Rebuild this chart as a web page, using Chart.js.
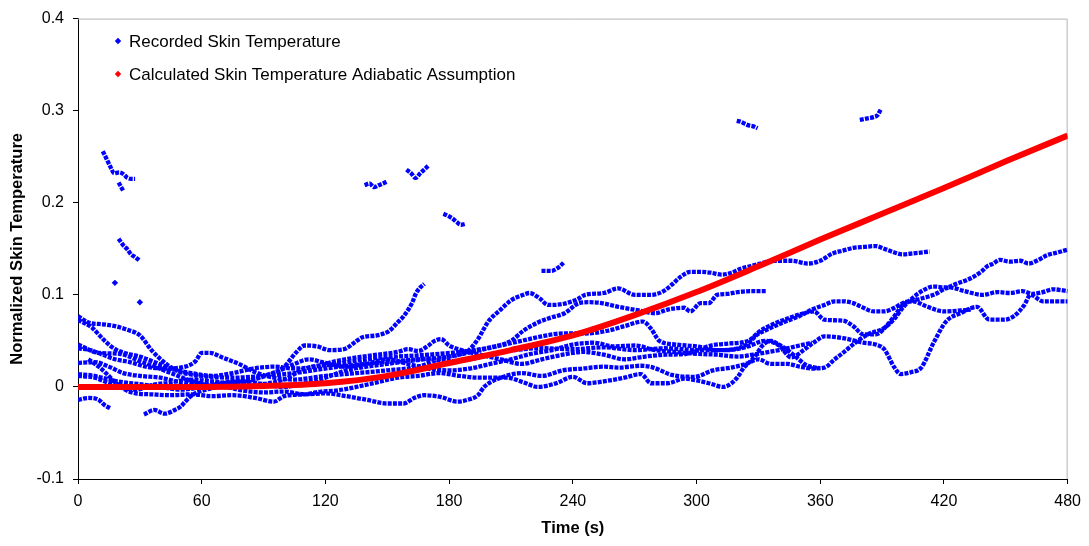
<!DOCTYPE html>
<html>
<head>
<meta charset="utf-8">
<script src="https://cdn.jsdelivr.net/npm/chart.js@4/dist/chart.umd.min.js"></script>
<style>
  html, body { margin: 0; padding: 0; background: #fff; }
  #wrap { width: 1089px; height: 546px; position: relative; }
</style>
</head>
<body>
<div id="wrap"><canvas id="skinChart"></canvas></div>
<script>
// axis ticks
const xTicks = [0, 60, 120, 180, 240, 300, 360, 420, 480];
const yTicks = [-0.1, 0, 0.1, 0.2, 0.3, 0.4];

const seriesLabels = ['Recorded Skin Temperature', 'Calculated Skin Temperature Adiabatic Assumption'];

// recorded traces, [time (s), normalized skin temperature]
const trace1 = [[0,0.077],[5,0.070],[12,0.068],[18,0.066],[24,0.062],[30,0.056],[36,0.039],[44,0.023],[50,0.016],[60,0.012],[75,0.010],[90,0.012],[105,0.015],[120,0.020],[135,0.024],[150,0.027],[165,0.030],[180,0.033],[189,0.039],[194,0.052],[199,0.071],[205,0.084],[210,0.094],[216,0.100],[219,0.102],[224,0.096],[228,0.089],[235,0.090],[242,0.095],[246,0.100],[255,0.102],[262,0.107],[270,0.100],[278,0.100],[284,0.104],[288,0.111],[292,0.119],[297,0.125],[302,0.125],[307,0.124],[312,0.122],[317,0.124],[321,0.128],[326,0.131],[331,0.134],[337,0.137],[346,0.137],[354,0.134],[360,0.137],[366,0.145],[371,0.148],[376,0.151],[381,0.152],[387,0.153],[391,0.150],[396,0.146],[400,0.144],[405,0.145],[413,0.147]];
const trace2 = [[0,0.046],[10,0.037],[20,0.036],[31,0.027],[44,0.016],[57,0.005],[70,0.000],[85,0.002],[100,0.008],[110,0.020],[125,0.025],[140,0.030],[155,0.033],[170,0.035],[185,0.038],[200,0.043],[210,0.050],[216,0.061],[223,0.070],[229,0.075],[236,0.080],[243,0.091],[248,0.092],[254,0.091],[262,0.087],[272,0.083],[280,0.080],[286,0.084],[294,0.086],[297,0.082],[302,0.091],[306,0.091],[310,0.100],[315,0.101],[320,0.103],[328,0.104],[334,0.104]];
const trace3 = [[0,0.026],[8,0.027],[15,0.022],[22,0.015],[30,0.012],[40,0.010],[50,0.005],[60,0.003],[75,0.006],[90,0.012],[100,0.022],[106,0.038],[110,0.045],[116,0.044],[122,0.040],[129,0.041],[134,0.048],[138,0.054],[145,0.056],[151,0.061],[155,0.070],[158,0.077],[162,0.091],[164,0.102],[166,0.108],[168,0.112]];
const trace4 = [[0,0.042],[6,0.040],[12,0.035],[18,0.030],[25,0.027],[33,0.022],[42,0.020],[52,0.022],[57,0.028],[60,0.037],[64,0.037],[70,0.032],[78,0.025],[86,0.016],[95,0.010],[105,0.008],[120,0.012],[135,0.015],[150,0.018],[165,0.022],[175,0.030],[185,0.035],[195,0.040],[205,0.045],[215,0.050],[225,0.055],[235,0.058],[245,0.058],[257,0.061],[265,0.066],[274,0.071],[278,0.063],[282,0.050],[290,0.046],[300,0.044],[310,0.040],[318,0.041],[325,0.047],[329,0.056],[335,0.063],[342,0.070],[350,0.077],[356,0.084],[362,0.089],[367,0.093],[371,0.093],[376,0.091],[380,0.087],[386,0.082],[391,0.082],[396,0.086],[400,0.091],[409,0.096],[415,0.100],[423,0.108],[430,0.104],[439,0.100],[446,0.103],[452,0.102],[458,0.104],[463,0.101],[468,0.103],[473,0.106],[480,0.104]];
const trace5 = [[0,0.014],[8,0.012],[15,0.008],[22,0.005],[30,0.003],[40,0.000],[50,-0.003],[60,0.000],[70,0.004],[80,0.006],[90,0.003],[100,0.000],[110,0.004],[120,0.010],[130,0.018],[140,0.022],[150,0.025],[160,0.028],[170,0.030],[180,0.028],[190,0.030],[200,0.035],[212,0.040],[225,0.042],[240,0.041],[255,0.043],[270,0.040],[285,0.042],[300,0.040],[315,0.040],[325,0.044],[333,0.050],[340,0.045],[346,0.032],[352,0.040],[358,0.050],[362,0.055],[371,0.053],[381,0.048],[387,0.046],[391,0.041],[396,0.021],[399,0.014],[404,0.016],[409,0.021],[415,0.048],[421,0.071],[428,0.080],[436,0.087],[442,0.073],[449,0.073],[454,0.077],[459,0.089],[462,0.100],[468,0.093],[474,0.093],[480,0.093]];
const trace6a = [[0,-0.014],[5,-0.012],[10,-0.014],[13,-0.020],[15.5,-0.023]];
const trace6b = [[32,-0.030],[37,-0.025],[42,-0.029],[47,-0.025],[50,-0.021],[52,-0.016],[56,-0.008],[62,-0.003],[70,0.000],[80,-0.004],[90,-0.006],[100,-0.005],[110,-0.008],[120,-0.007],[130,-0.010],[140,-0.014],[150,-0.018],[158,-0.018],[163,-0.012],[168,-0.009],[176,-0.011],[184,-0.016],[189,-0.014],[194,-0.009],[197,0.000],[205,0.010],[215,0.015],[225,0.012],[235,0.018],[245,0.020],[255,0.022],[262,0.021],[273,0.023],[279,0.021],[288,0.013],[299,0.011],[308,0.018],[317,0.021],[324,0.025],[330,0.030],[336,0.025],[344,0.025],[350,0.022],[356,0.020],[362,0.021],[367,0.030],[371,0.037],[377,0.048],[383,0.057],[391,0.064],[396,0.074],[400,0.086],[405,0.097],[410,0.105],[415,0.109],[421,0.108],[426,0.112],[433,0.118],[438,0.125],[441,0.131],[444,0.134],[447,0.138],[452,0.136],[457,0.137],[461,0.134],[465,0.137],[470,0.143],[475,0.146],[480,0.149]];
const trace7 = [[0,0.073],[7,0.064],[10,0.057],[13,0.050],[18,0.041],[24,0.036],[30,0.033],[36,0.028],[45,0.020],[55,0.015],[65,0.012],[75,0.015],[85,0.020],[95,0.022],[105,0.020],[115,0.022],[125,0.028],[135,0.032],[145,0.035],[155,0.038],[160,0.041],[165,0.039],[170,0.045],[173,0.050],[176,0.052],[180,0.045],[186,0.040],[195,0.035],[205,0.030],[215,0.025],[225,0.030],[235,0.035],[245,0.038],[255,0.035],[265,0.030],[275,0.033],[285,0.035],[295,0.036],[307,0.045],[315,0.047],[325,0.050],[331,0.061],[337,0.068],[345,0.075],[352,0.080],[357,0.082],[362,0.073],[371,0.072],[376,0.066],[381,0.057],[387,0.057],[392,0.066],[396,0.077],[400,0.089],[405,0.093],[412,0.087],[420,0.082],[428,0.083],[433,0.084]];
const trace8 = [[5,0.030],[10,0.022],[14,0.014],[18,0.005],[22,-0.002],[28,-0.007],[35,-0.008],[45,-0.009],[55,-0.008],[65,-0.010],[75,-0.009],[86,-0.012],[95,-0.016],[100,-0.010],[110,-0.008],[118,-0.005],[125,-0.004],[135,0.000],[145,0.005],[155,0.010],[165,0.012],[175,0.015],[185,0.012],[195,0.010],[208,0.010],[216,0.005],[223,0.000],[232,0.004],[240,0.011],[247,0.004],[255,0.006],[265,0.010],[273,0.014],[278,0.004],[286,0.004],[294,0.009],[300,0.007],[306,0.004],[313,0.000],[317,0.004],[320,0.011],[323,0.021],[328,0.032],[332,0.045],[336,0.050],[340,0.046],[344,0.040],[348,0.033],[353,0.024],[360,0.020]];
const trace9 = [[0,0.012],[8,0.010],[15,0.004],[20,0.000],[28,-0.003],[36,0.002],[45,0.005],[55,0.008],[65,0.006],[75,0.004],[85,0.008],[95,0.015],[105,0.025],[112,0.030],[120,0.026],[130,0.022],[140,0.025],[150,0.030],[160,0.025],[170,0.020],[180,0.018],[190,0.020],[200,0.025],[210,0.030],[220,0.036],[230,0.040],[240,0.046],[250,0.048],[260,0.044],[270,0.045],[280,0.040],[290,0.038],[300,0.036],[310,0.035],[320,0.033],[330,0.036],[340,0.040],[350,0.045],[356,0.048]];

// short outlying fragments of the recorded data
const fragA1 = [[12,0.256],[14,0.247],[15.7,0.239],[17.6,0.232],[19.9,0.233],[22.1,0.231],[24,0.227],[25.7,0.226],[27.7,0.226]];
const fragA2 = [[19.7,0.222],[21.9,0.213]];
const fragB = [[19.7,0.161],[21.9,0.154],[24.1,0.149],[25.7,0.144],[27.7,0.141],[30,0.137]];
const fragC1 = [[17.9,0.113]];
const fragC2 = [[30,0.092]];
const fragD = [[139,0.219],[141.4,0.221],[143.5,0.217],[145.8,0.219],[147.9,0.221],[149.8,0.223]];
const fragE = [[159.3,0.236],[161.6,0.232],[163.7,0.227],[166,0.232],[167.9,0.236],[169.8,0.240]];
const fragF = [[177.2,0.188],[179.3,0.186],[181.6,0.183],[183.7,0.179],[185.8,0.176],[187.7,0.177]];
const fragG = [[224.8,0.126],[227.4,0.126],[229.7,0.126],[231.8,0.128],[233.7,0.131],[235.5,0.135]];
const fragH = [[319.5,0.289],[321.4,0.288],[323.3,0.286],[325.4,0.284],[327.5,0.283],[329.6,0.281]];
const fragI = [[379.2,0.290],[381.4,0.291],[383.5,0.292],[385.8,0.293],[387.7,0.295],[389.3,0.301]];

// calculated adiabatic curve
const calcTime = [0, 30, 60, 90, 120, 150, 180, 210, 240, 270, 300, 330, 360, 390, 420, 450, 480];
const calcTemp = [0, 0, 0, 0.001, 0.004, 0.012, 0.026, 0.040, 0.056, 0.078, 0.103, 0.131, 0.160, 0.188, 0.216, 0.245, 0.273];

const recordedTraces = [trace1, trace2, trace3, trace4, trace5, trace6a, trace6b, trace7, trace8, trace9,
    fragA1, fragA2, fragB, fragC1, fragC2, fragD, fragE, fragF, fragG, fragH, fragI];

// one series, gaps between traces
const recordedData = [];
recordedTraces.forEach(tr => {
    tr.forEach(p => recordedData.push({x: p[0], y: p[1]}));
    recordedData.push({x: tr[tr.length - 1][0], y: null});
});
const calcData = calcTime.map((t, i) => ({x: t, y: calcTemp[i]}));

const BLUE = '#0000ff';
const RED = '#ff0000';
const FONT = '"Liberation Sans", Arial, sans-serif';

function isolated(ctx) {
    const d = ctx.dataset.data;
    const i = ctx.dataIndex;
    if (!d[i] || d[i].y === null) return false;
    const prev = d[i - 1], next = d[i + 1];
    return (!prev || prev.y === null) && (!next || next.y === null);
}

function diamond(ctx, x, y, r, color) {
    ctx.fillStyle = color;
    ctx.beginPath();
    ctx.moveTo(x, y - r);
    ctx.lineTo(x + r, y);
    ctx.lineTo(x, y + r);
    ctx.lineTo(x - r, y);
    ctx.closePath();
    ctx.fill();
}

const frameAndLegend = {
    id: 'frameAndLegend',
    beforeDatasetsDraw(chart) {
        const {ctx, chartArea: a} = chart;
        ctx.save();
        ctx.strokeStyle = '#b4b4b4';
        ctx.lineWidth = 1;
        ctx.beginPath();
        ctx.moveTo(a.left, a.top + 0.5);
        ctx.lineTo(a.right - 0.5, a.top + 0.5);
        ctx.lineTo(a.right - 0.5, a.bottom);
        ctx.stroke();
        ctx.restore();
    },
    afterDraw(chart) {
        const ctx = chart.ctx;
        const colors = [BLUE, RED];
        const rows = [41, 74];
        ctx.save();
        ctx.font = '17px ' + FONT;
        ctx.textBaseline = 'middle';
        chart.data.datasets.forEach((ds, i) => {
            diamond(ctx, 118, rows[i], 3.2, colors[i]);
            ctx.fillStyle = '#000';
            ctx.fillText(ds.label, 129, rows[i] + 1);
        });
        ctx.restore();
    }
};

new Chart(document.getElementById('skinChart').getContext('2d'), {
    type: 'scatter',
    data: {
        datasets: [{
            label: seriesLabels[0],
            data: recordedData,
            showLine: true,
            borderColor: BLUE,
            borderWidth: 4.3,
            borderDash: [4, 1.2],
            cubicInterpolationMode: 'monotone',
            pointStyle: 'rectRot',
            pointRadius: ctx => isolated(ctx) ? 3.2 : 0,
            pointBackgroundColor: BLUE,
            pointBorderWidth: 0,
            order: 1
        }, {
            label: seriesLabels[1],
            data: calcData,
            showLine: true,
            borderColor: RED,
            borderWidth: 6,
            cubicInterpolationMode: 'monotone',
            pointRadius: 0,
            order: 0
        }]
    },
    options: {
        responsive: true,
        maintainAspectRatio: false,
        animation: false,
        layout: { padding: { top: 12, right: 20, left: 0, bottom: 0 } },
        plugins: {
            legend: { display: false },
            tooltip: { enabled: false }
        },
        scales: {
            x: {
                type: 'linear',
                min: 0,
                max: 480,
                afterBuildTicks: s => { s.ticks = xTicks.map(v => ({value: v})); },
                afterFit: s => { s.height = 67; },
                ticks: { color: '#000', font: { family: FONT, size: 16 }, padding: 8, autoSkip: false, maxRotation: 0 },
                grid: { drawOnChartArea: false, drawTicks: true, tickLength: 5, color: '#000' },
                border: { display: true, color: '#000', width: 1 },
                title: { display: true, text: 'Time (s)', color: '#000',
                         font: { family: FONT, size: 16.5, weight: 'bold' }, padding: { top: 0, bottom: 8 } }
            },
            y: {
                type: 'linear',
                min: -0.1,
                max: 0.4,
                afterBuildTicks: s => { s.ticks = yTicks.map(v => ({value: v})); },
                afterFit: s => { s.width = 78; },
                ticks: { color: '#000', font: { family: FONT, size: 16 }, padding: 9,
                         callback: v => String(Math.round(v * 10) / 10) },
                grid: { drawOnChartArea: false, drawTicks: true, tickLength: 5, color: '#000' },
                border: { display: true, color: '#000', width: 1 },
                title: { display: true, text: 'Normalized Skin Temperature', color: '#000',
                         font: { family: FONT, size: 16.5, weight: 'bold' }, padding: { top: 8, bottom: 0 } }
            }
        }
    },
    plugins: [frameAndLegend]
});
</script>
</body>
</html>
